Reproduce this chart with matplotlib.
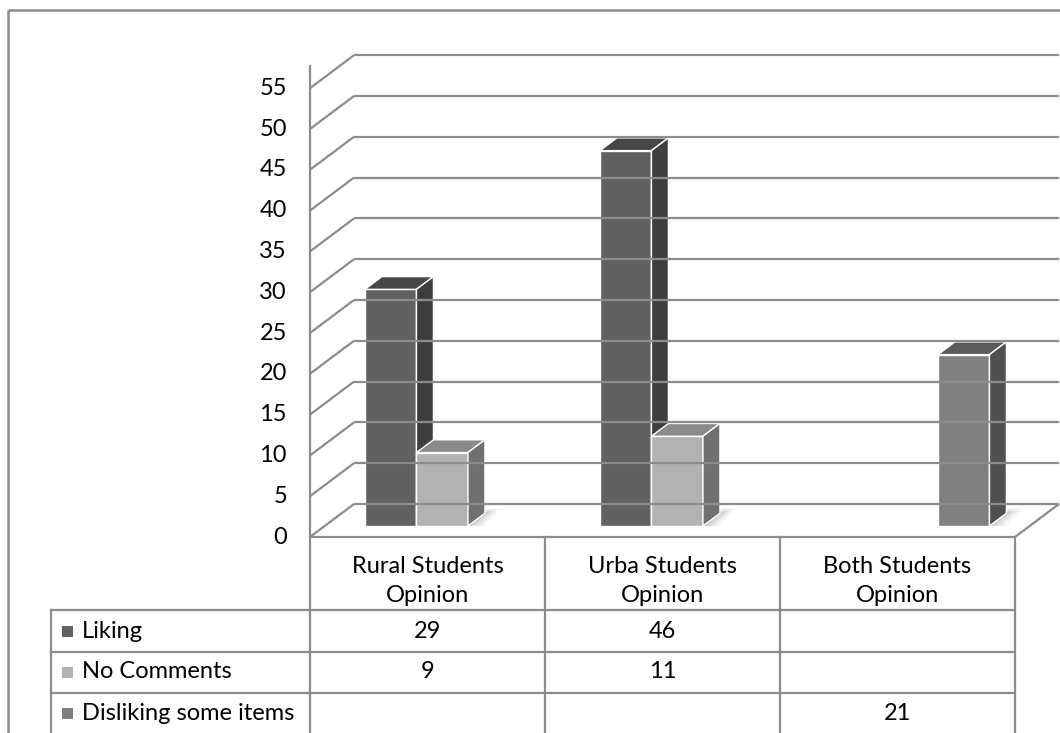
import matplotlib
matplotlib.use("Agg")
import matplotlib.pyplot as plt
from matplotlib.patches import Polygon, Rectangle
from matplotlib.transforms import blended_transform_factory, IdentityTransform
import numpy as np

# ---- data -------------------------------------------------------------
categories = ["Rural Students\nOpinion", "Urba Students\nOpinion", "Both Students\nOpinion"]
series_names = ["Liking", "No Comments", "Disliking some items"]
liking = [29, 46, None]
no_comments = [9, 11, None]
disliking = [None, None, 21]
series_values = [liking, no_comments, disliking]
y_ticks = list(range(0, 60, 5))
axis_top = 57.8

# ---- styling ----------------------------------------------------------
front_colors = ["#616161", "#b2b2b2", "#808080"]
top_colors = ["#474747", "#8a8a8a", "#5c5c5c"]
side_colors = ["#3e3e3e", "#707070", "#505050"]
line_color = "#8c8c8c"
FONT = "Lato"
FS = 17

W, H = 1060, 733
fig = plt.figure(figsize=(W / 100, H / 100), dpi=100)
fig.patch.set_facecolor("white")

# layout axes in pixel units (origin top-left)
lay = fig.add_axes([0, 0, 1, 1])
lay.set_xlim(0, W)
lay.set_ylim(H, 0)
lay.axis("off")

# data axes: x = category units, y = value units
x0_px, cat_px = 310, 235.0
y0_px, unit_px = 537, 8.16
ax = fig.add_axes([0, 0, 1, 1])
ax.set_xlim(-x0_px / cat_px, (W - x0_px) / cat_px)
ax.set_ylim(-(H - y0_px) / unit_px, y0_px / unit_px)
ax.axis("off")
ax.patch.set_alpha(0)

# oblique depth vector of the wall (display pixels, y up)
DEPTH = np.array([44.0, 33.0])
BAR_FRONT, BAR_BACK = 0.334, 0.72


def disp(x, y, d=0.0):
    return ax.transData.transform((x, y)) + DEPTH * d


def poly(pts, **kw):
    p = Polygon(np.array(pts), closed=True, transform=IdentityTransform(), **kw)
    fig.add_artist(p)
    return p


def seg(p, q, **kw):
    pts = np.array([p, q])
    fig.add_artist(plt.Line2D(pts[:, 0], pts[:, 1], transform=IdentityTransform(),
                              color=line_color, lw=1.6, solid_capstyle="butt", **kw))


n_cat = len(categories)

# ---- back wall gridlines and side diagonals ----------------------------
for t in y_ticks:
    seg(disp(0, t, 1), disp(n_cat, t, 1))
    seg(disp(0, t, 0), disp(0, t, 1))
# floor outline
seg(disp(0, 0, 0), disp(n_cat, 0, 0))
seg(disp(n_cat, 0, 0), disp(n_cat, 0, 1))
# vertical value axis
seg(disp(0, 0, 0), disp(0, axis_top, 0))

# tick labels
for t in y_ticks:
    px, py = disp(0, t, 0)
    fig.text((px - 23) / W, py / H, str(t), ha="right", va="center",
             fontsize=FS, family=FONT, color="black")

# ---- bars ---------------------------------------------------------------
n_slots = len(series_values)
bar_w = 51.5 / cat_px
for i in range(n_cat):
    start = i + 0.5 - n_slots * bar_w / 2
    for s, vals in enumerate(series_values):
        v = vals[i]
        if v is None:
            continue
        xa, xb = start + s * bar_w, start + (s + 1) * bar_w
        # soft floor shadow
        for k, a in enumerate([0.05, 0.06, 0.08, 0.10]):
            grow = (4 - k) * 4
            poly([disp(xa, 0, BAR_FRONT) + [grow * 0.3, 0],
                  disp(xb, 0, BAR_FRONT) + [grow, 0],
                  disp(xb, 0, BAR_BACK) + [grow, grow * 0.3],
                  disp(xa, 0, BAR_BACK) + [grow * 0.3, grow * 0.3]],
                 facecolor="#404040", edgecolor="none", alpha=a)
        # front face
        poly([disp(xa, 0, BAR_FRONT), disp(xb, 0, BAR_FRONT),
              disp(xb, v, BAR_FRONT), disp(xa, v, BAR_FRONT)],
             facecolor=front_colors[s], edgecolor="white", lw=1.0)
        # top face
        poly([disp(xa, v, BAR_FRONT), disp(xb, v, BAR_FRONT),
              disp(xb, v, BAR_BACK), disp(xa, v, BAR_BACK)],
             facecolor=top_colors[s], edgecolor="white", lw=1.0)
        # right side face
        poly([disp(xb, 0, BAR_FRONT), disp(xb, 0, BAR_BACK),
              disp(xb, v, BAR_BACK), disp(xb, v, BAR_FRONT)],
             facecolor=side_colors[s], edgecolor="white", lw=1.0)

# ---- outer frame ----------------------------------------------------------
lay.plot([8, W], [10, 10], color=line_color, lw=1.8, solid_capstyle="butt")
lay.plot([8, 8], [10, H], color=line_color, lw=1.8, solid_capstyle="butt")

# ---- data table --------------------------------------------------------
bt = blended_transform_factory(ax.transData, lay.transData)
table_top, header_bottom = 537, 610
row_lines = [610, 652, 693]
row_centers = [631, 672, 713]
legend_left = 51

for i in range(n_cat + 1):
    lay.plot([x0_px + i * cat_px] * 2, [table_top, H], color=line_color, lw=1.6)
lay.plot([legend_left, legend_left], [header_bottom, H], color=line_color, lw=1.6)
for yl in row_lines:
    lay.plot([legend_left, x0_px + n_cat * cat_px], [yl, yl], color=line_color, lw=1.6)

for i, cat in enumerate(categories):
    lay.text(i + 0.5, 581, cat, transform=bt, ha="center", va="center",
             fontsize=FS, family=FONT, linespacing=1.45)

key_colors = front_colors
for s, name in enumerate(series_names):
    yc = row_centers[s]
    lay.add_patch(Rectangle((62, yc - 5.5), 11, 11, facecolor=key_colors[s], edgecolor="none"))
    lay.text(82, yc, name, ha="left", va="center", fontsize=FS, family=FONT)
    for i in range(n_cat):
        v = series_values[s][i]
        if v is not None:
            lay.text(i + 0.5, yc, str(v), transform=bt, ha="center", va="center",
                     fontsize=FS, family=FONT)

fig.savefig("out.png", dpi=100, facecolor="white")
